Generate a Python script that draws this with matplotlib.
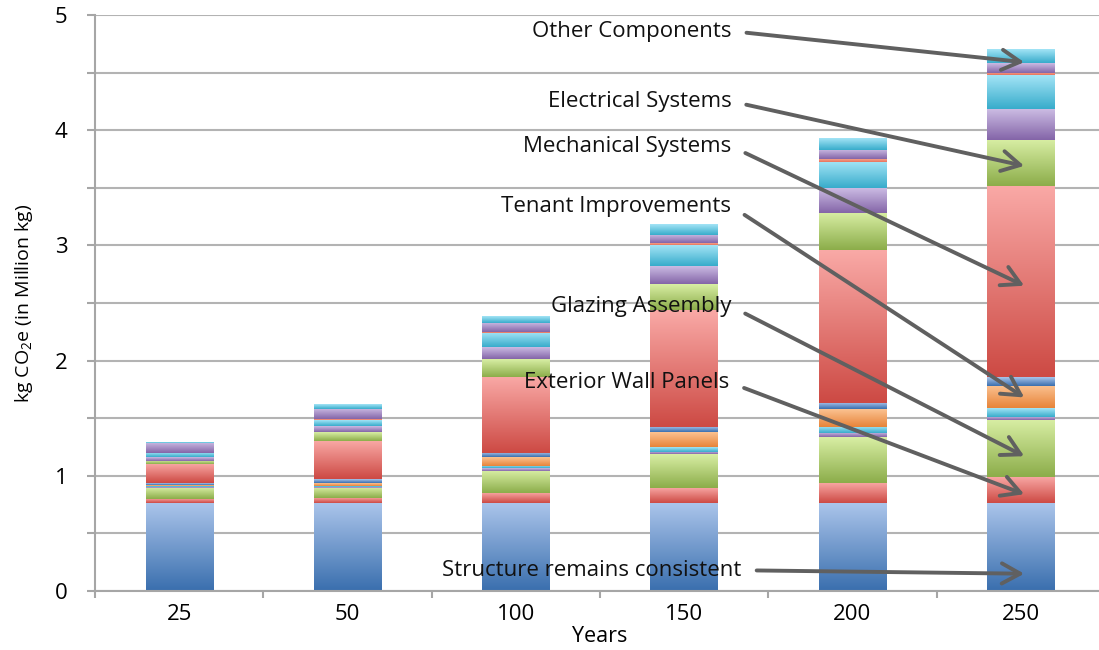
import numpy as np
import matplotlib
matplotlib.use("Agg")
import matplotlib.pyplot as plt

plt.rcParams['font.family'] = ['Open Sans', 'DejaVu Sans']
plt.rcParams['mathtext.fontset'] = 'custom'
plt.rcParams['mathtext.rm'] = 'Open Sans'
plt.rcParams['mathtext.it'] = 'Open Sans:italic'

# ---- data (million kg CO2e per component) ----
years = ['25', '50', '100', '150', '200', '250']

structure    = [0.76, 0.76, 0.76, 0.76, 0.76, 0.76]
ext_wall     = [0.040, 0.045, 0.087, 0.136, 0.174, 0.226]
glazing      = [0.097, 0.092, 0.196, 0.290, 0.399, 0.496]
comp_4       = [0.008, 0.008, 0.021, 0.023, 0.035, 0.031]
comp_5       = [0.010, 0.009, 0.020, 0.043, 0.057, 0.078]
tenant       = [0.007, 0.026, 0.075, 0.125, 0.151, 0.192]
comp_7       = [0.013, 0.030, 0.035, 0.048, 0.058, 0.071]
mechanical   = [0.165, 0.335, 0.660, 1.014, 1.325, 1.659]
electrical   = [0.030, 0.078, 0.156, 0.225, 0.324, 0.403]
comp_10      = [0.030, 0.049, 0.104, 0.156, 0.211, 0.265]
comp_11      = [0.035, 0.052, 0.122, 0.182, 0.232, 0.294]
comp_12      = [0.005, 0.006, 0.013, 0.017, 0.020, 0.021]
comp_13      = [0.087, 0.087, 0.080, 0.070, 0.081, 0.085]
other        = [0.003, 0.038, 0.057, 0.087, 0.102, 0.120]

series = [structure, ext_wall, glazing, comp_4, comp_5, tenant, comp_7,
          mechanical, electrical, comp_10, comp_11, comp_12, comp_13, other]

# gradient colours (top, bottom) like the excel fills
blue = ('#aac4ea', '#3a6fae')
red = ('#f9a9a6', '#cd4a44')
green = ('#d8eea4', '#8cad4a')
purple = ('#cbbbe3', '#8465a8')
cyan = ('#a3e4f6', '#38accb')
orange = ('#fbc291', '#e7843a')
salmon = ('#f4a08a', '#e8735c')
fam = [blue, red, green, purple, cyan, orange, blue,
       red, green, purple, cyan, salmon, purple, cyan]

# annotations: label, text anchor (right edge), arrow tip
labels = ['Other Components', 'Electrical Systems', 'Mechanical Systems',
          'Tenant Improvements', 'Glazing Assembly', 'Exterior Wall Panels',
          'Structure remains consistent']
text_xy = [(3.28, 4.86), (3.28, 4.25), (3.28, 3.86), (3.28, 3.34),
           (3.28, 2.47), (3.27, 1.81), (3.34, 0.18)]
tip_xy = [(5.02, 4.59), (5.02, 3.69), (5.02, 2.65), (5.02, 1.68),
          (5.02, 1.17), (5.02, 0.84), (5.02, 0.15)]

fig = plt.figure(figsize=(10.99, 6.5), dpi=100)
ax = fig.add_axes([95/1099, 59/650, 1010/1099, 576/650])

x = np.arange(len(years))
width = 0.40
bottom = np.zeros(len(years))
n = 64
t = np.linspace(0, 1, n)
for vals, (ctop, cbot) in zip(series, fam):
    bars = ax.bar(x, vals, width, bottom=bottom, color='none', edgecolor='none', zorder=2)
    c0 = np.array(matplotlib.colors.to_rgb(cbot))
    c1 = np.array(matplotlib.colors.to_rgb(ctop))
    grad = (c0[None, :] * (1 - t[:, None]) + c1[None, :] * t[:, None])[:, None, :]
    for b in bars:
        x0, y0 = b.get_x(), b.get_y()
        ax.imshow(grad, extent=[x0, x0 + b.get_width(), y0, y0 + b.get_height()],
                  origin='lower', aspect='auto', interpolation='bilinear', zorder=2)
    bottom += np.array(vals)

ax.set_xlim(-0.5, 5.5)
ax.set_ylim(0, 5)

# axes styling
for s in ['top', 'right']:
    ax.spines[s].set_visible(False)
for s in ['left', 'bottom']:
    ax.spines[s].set_color('#a6a6a6')
    ax.spines[s].set_linewidth(1.5)

ax.set_yticks(np.arange(0, 5.01, 1))
ax.set_yticks(np.arange(0.5, 5, 1), minor=True)
ax.yaxis.grid(True, which='both', color='#b3b3b3', lw=1.5, zorder=0)
ax.set_axisbelow(True)
ax.tick_params(axis='y', which='both', direction='out', length=6, width=1.5,
               color='#a6a6a6', pad=14, labelsize=16)

ax.set_xticks(x)
ax.set_xticklabels(years)
ax.set_xticks(np.arange(-0.5, 5.6, 1), minor=True)
ax.tick_params(axis='x', which='major', length=0, pad=9, labelsize=16)
ax.tick_params(axis='x', which='minor', direction='out', length=5, width=1.5,
               color='#a6a6a6')

ax.set_xlabel('Years', fontsize=15.5, labelpad=1)
ax.set_ylabel('kg CO$_2$e (in Million kg)', fontsize=14, labelpad=14)

for lab, (tx, ty), (px, py) in zip(labels, text_xy, tip_xy):
    ax.annotate(lab, xy=(px, py), xytext=(tx, ty), ha='right', va='center',
                fontsize=16, color='#111111', zorder=5,
                arrowprops=dict(arrowstyle='->, head_length=0.6, head_width=0.33',
                                color='#606060', lw=2.8, mutation_scale=22,
                                relpos=(1, 0.5), shrinkA=9, shrinkB=0))

fig.savefig('out.png', dpi=100)
